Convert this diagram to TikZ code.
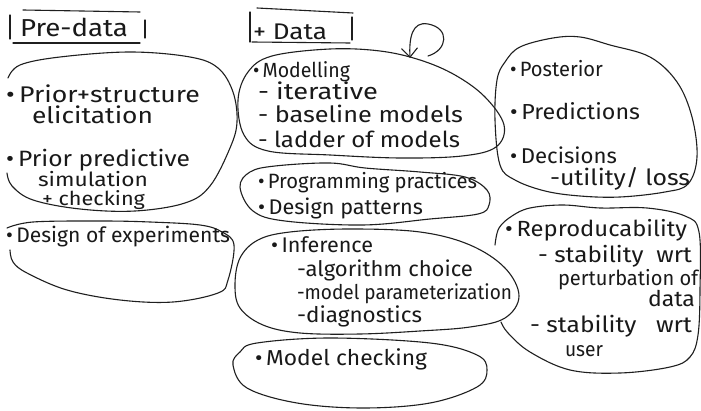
\documentclass[tikz,border=0pt]{standalone}
\usepackage{fontspec}
\setmainfont{Fira Sans}
\usetikzlibrary{arrows.meta}
\newsavebox\hwbox
\newcommand{\fw}[2]{%
  \sbox\hwbox{#2}%
  \pgfmathsetmacro\hwh{#1/\the\wd\hwbox}%
  \pgfmathsetmacro\hwv{min(1.08,max(0.92,pow(\hwh,0.35)))}%
  \scalebox{\hwh}[\hwv]{\usebox\hwbox}}
\newcommand{\bul}{\textbullet\,}
\begin{document}
\begin{tikzpicture}[x=1pt,y=-1pt,
  ink/.style={draw=black!88, line width=1.1pt, line cap=round, line join=round},
  hw/.style={anchor=base west, inner sep=0pt, outer sep=0pt,
             font=\fontsize{21}{24}\selectfont, text=black!90},
  hwsmall/.style={hw, font=\fontsize{18}{20}\selectfont}]
\useasboundingbox (0,0) rectangle (701,411);
\fill[white] (0,0) rectangle (701,411);

% ---------- headings ----------
\node[hw, font=\fontsize{23}{26}\selectfont] (predata) at (20,37) {\fw{108}{Pre-data}};
\draw[ink] (10,15) -- (10,39);
\draw[ink] (23,10) -- (140,12);
\draw[ink] (13,43) -- (140,43);
\draw[ink] (145,20) -- (145,38);

\node[hw] (data) at (253,40) {\fw{74}{+ Data}};
\draw[ink] (250,12) -- (250,42);
\draw[ink] (257,8) -- (353,13);
\draw[ink] (252,42) -- (350,43);
\draw[ink] (352,17) -- (352,40);

% ---------- blobs ----------
% prior blob (open on the left)
\draw[ink] plot[smooth, tension=0.6] coordinates {(8,78) (20,65) (60,57) (130,52) (190,57) (218,68) (233,92) (237,122) (230,148) (210,186) (185,203) (135,211) (80,209) (33,200) (12,186) (7,173)};
% design of experiments blob (open on the left)
\draw[ink] plot[smooth, tension=0.6] coordinates {(7,228) (33,222) (100,221) (150,222) (200,225) (222,232) (234,245) (228,280) (218,293) (173,302) (120,300) (67,290) (27,273) (13,262) (10,250)};
% modelling
\draw[ink] plot[smooth cycle, tension=0.6] coordinates {(238,100) (248,72) (272,56) (330,49) (380,51) (420,60) (455,75) (485,97) (504,125) (496,147) (462,156) (400,158) (330,155) (268,151) (244,135)};
% programming
\draw[ink] plot[smooth cycle, tension=0.6] coordinates {(240,187) (250,172) (275,166) (330,163) (365,168) (420,172) (465,177) (487,190) (489,205) (478,214) (430,219) (363,225) (285,221) (253,211)};
% inference
\draw[ink] plot[smooth cycle, tension=0.6] coordinates {(235,285) (240,258) (258,240) (290,232) (350,229) (420,232) (470,245) (505,268) (519,296) (505,318) (470,327) (420,331) (360,334) (300,333) (263,325) (240,308)};
% model checking
\draw[ink] plot[smooth cycle, tension=0.6] coordinates {(233,365) (240,352) (257,343) (330,338) (430,343) (477,355) (487,370) (477,387) (430,403) (363,408) (297,403) (247,388)};
% posterior
\draw[ink] plot[smooth cycle, tension=0.6] coordinates {(497,80) (505,62) (520,47) (553,38) (580,37) (610,45) (650,57) (677,82) (692,117) (697,157) (688,184) (665,192) (620,197) (580,196) (545,191) (515,180) (500,165) (495,120)};
% reproducability (open on the left)
\draw[ink] plot[smooth, tension=0.6] coordinates {(495,245) (499,228) (512,216) (530,208) (563,205) (600,208) (647,208) (685,216) (699,232) (700,290) (698,335) (690,357) (670,367) (620,373) (570,370) (530,352) (508,333) (501,322)};

% ---------- loop arrow ----------
\coordinate (loopstart) at (428,56);
\coordinate (looptip) at (410,58);
\draw[ink, -{Straight Barb[length=9pt,width=16pt]}] (loopstart) .. controls (448,50) and (450,28) .. (428,24) .. controls (412,21) and (409,38) .. (looptip);

% ---------- pre-data texts ----------
\node[hw] (t1) at (6,103) {\fw{194}{\bul Prior+structure}};
\node[hw] (t2) at (32,124) {\fw{121}{elicitation}};
\node[hw] (t3) at (6,167) {\fw{184}{\bul Prior predictive}};
\node[hwsmall] (t4) at (38,187) {\fw{110}{simulation}};
\node[hwsmall] (t5) at (42,206) {\fw{103}{+ checking}};
\node[hw] (t6) at (6,243) {\fw{224}{\bul Design of experiments}};

% ---------- data texts ----------
\node[hw] (m1) at (253,78) {\fw{97}{\bul Modelling}};
\node[hw] (m2) at (258,100) {\fw{120}{- iterative}};
\node[hw] (m3) at (258,123) {\fw{205}{- baseline models}};
\node[hw] (m4) at (258,148) {\fw{202}{- ladder of models}};
\node[hw] (p1) at (258,189) {\fw{219}{\bul Programming practices}};
\node[hw] (p2) at (258,215) {\fw{165}{\bul Design patterns}};
\node[hw] (i1) at (271,253) {\fw{102}{\bul Inference}};
\node[hw] (i2) at (297,277) {\fw{176}{-algorithm choice}};
\node[hw] (i3) at (297,300) {\fw{215}{-model parameterization}};
\node[hw] (i4) at (297,323) {\fw{125}{-diagnostics}};
\node[hw] (c1) at (255,365) {\fw{172}{\bul Model checking}};

% ---------- post texts ----------
\node[hw] (q1) at (510,77) {\fw{93}{\bul Posterior}};
\node[hw] (q2) at (510,120) {\fw{130}{\bul Predictions}};
\node[hw] (q3) at (510,164) {\fw{107}{\bul Decisions}};
\node[hw] (q4) at (550,186) {\fw{140}{-utility/ loss}};
\node[hw] (r1) at (505,237) {\fw{182}{\bul Reproducability}};
\node[hw] (r2) at (538,263) {\fw{154}{- stability\ \ wrt}};
\node[hw] (r3) at (558,286) {\fw{140}{perturbation of}};
\node[hw] (r4) at (648,306) {\fw{47}{data}};
\node[hw] (r5) at (530,333) {\fw{162}{- stability\ \ \ wrt}};
\node[hw] (r6) at (565,357) {\fw{38}{user}};
\end{tikzpicture}
\end{document}
